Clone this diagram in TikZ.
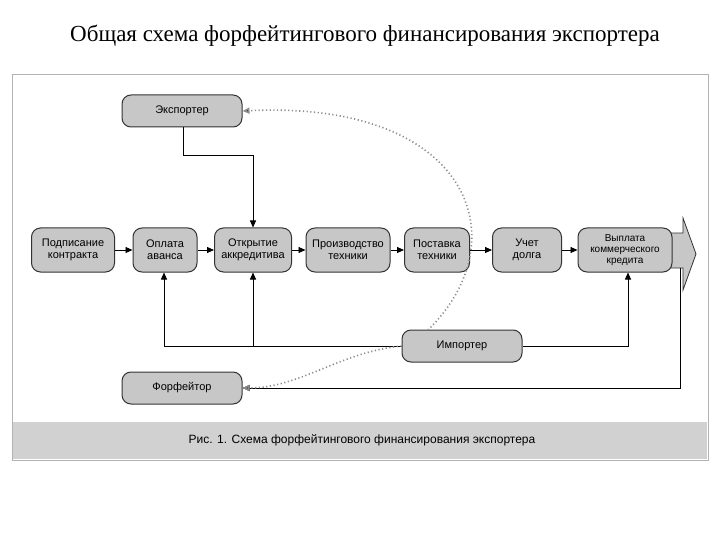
\documentclass[tikz,border=0pt]{standalone}
\usepackage{fontspec}
\setmainfont{Liberation Serif}
\setsansfont{Liberation Sans}
\usetikzlibrary{arrows.meta}
\begin{document}
\begin{tikzpicture}[x=1pt,y=-1pt,
  box/.style={draw=black!80,line width=1pt,fill=black!22,rounded corners=9pt,font=\sffamily\fontsize{11}{12}\selectfont,align=center,inner sep=1pt},
  conn/.style={line width=0.8pt,-{Triangle[length=7pt,width=6pt]}},
  dots/.style={dash pattern=on 1.2pt off 2.5pt,line width=1.6pt,black!45,-{Triangle[length=7pt,width=6pt,fill=black]}}]
\useasboundingbox (0,0) rectangle (720,540);
\node (title) at (365,36) {\fontsize{23}{26}\selectfont Общая схема форфейтингового финансирования экспортера};
\draw[black!30,line width=1pt] (12,75) rectangle (708,460);
\fill[black!18] (13,422) rectangle (707,459);
\node[font=\sffamily\fontsize{12}{13}\selectfont] (cap) at (362,440) {Рис. 1. Схема форфейтингового финансирования экспортера};
% big arrow
\filldraw[draw=black!80,fill=black!22,line width=0.8pt] (665,233) -- (683,233) -- (683,218) -- (696,254) -- (683,290) -- (683,268) -- (665,268) -- cycle;
\node[box,minimum width=120pt,minimum height=32pt] (exp) at (182,111) {Экспортер};
\node[box,minimum width=83pt,minimum height=44pt] (a) at (73,250) {Подписание\\контракта};
\node[box,minimum width=64pt,minimum height=44pt] (b) at (165,250) {Оплата\\аванса};
\node[box,minimum width=77pt,minimum height=44pt] (c) at (253,250) {Открытие\\аккредитива};
\node[box,minimum width=84pt,minimum height=44pt] (d) at (348,250) {Производство\\техники};
\node[box,minimum width=65pt,minimum height=44pt] (e) at (437,250) {Поставка\\техники};
\node[box,minimum width=69pt,minimum height=44pt] (f) at (527,250) {Учет\\долга};
\node[box,minimum width=94pt,minimum height=44pt,font=\sffamily\fontsize{10}{11}\selectfont] (g) at (625,250) {Выплата\\коммерческого\\кредита};
\node[box,minimum width=120pt,minimum height=32pt] (imp) at (462,346) {Импортер};
\node[box,minimum width=120pt,minimum height=32pt] (forf) at (182,388) {Форфейтор};
\foreach \u/\v in {a/b,b/c,c/d,d/e,e/f,f/g} \draw[conn] (\u) -- (\v);
\coordinate (e1) at (183,155);
\coordinate (e2) at (253,155);
\draw[conn] (exp.south -| e1) -- (e1) -- (e2) -- (c.north);
\coordinate (i1) at (164,346);
\draw[conn] (imp.west) -- (i1) -- (i1 |- b.south);
\draw[conn] (253,346) -- (c.south);
\coordinate (i2) at (628,346);
\draw[conn] (imp.east) -- (i2) -- (i2 |- g.south);
\coordinate (r1) at (680,388);
\draw[conn] (680,268) -- (r1) -- (forf.east);
\draw[dots] (428,330) .. controls (520,240) and (470,100) .. (exp.east);
\draw[dots] (imp.west) .. controls (340,352) and (300,388) .. (forf.east);
\end{tikzpicture}
\end{document}
